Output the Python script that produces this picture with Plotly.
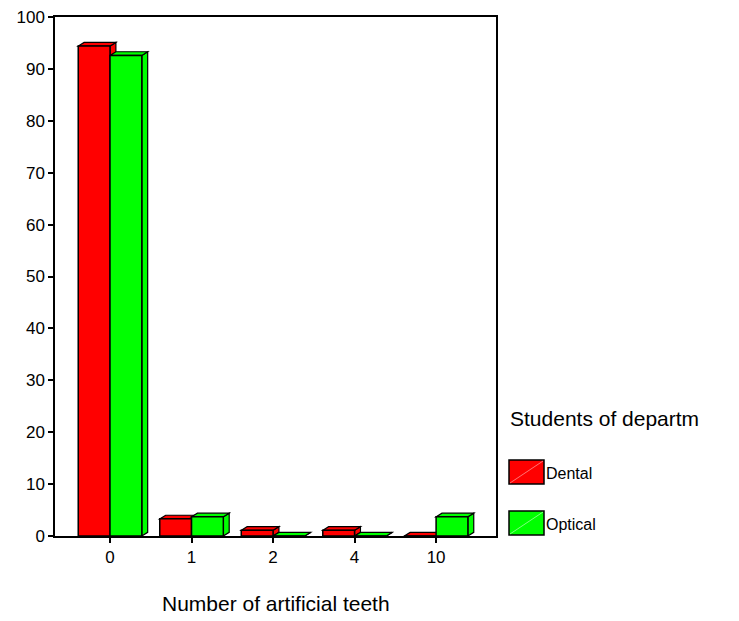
import plotly.graph_objects as go

categories = ["0", "1", "2", "4", "10"]
dental = [94.4, 3.3, 1.1, 1.1, 0.0]
optical = [92.6, 3.7, 0.0, 0.0, 3.7]
series_names = ["Dental", "Optical"]
series_colors = ["#FF0000", "#00FF00"]
series_light = ["#FF9090", "#A0FFA0"]
legend_title = "Students of departm"
x_title = "Number of artificial teeth"
y_ticks = list(range(0, 101, 10))

PAGE_OFF = 8  # browser body margin
W, H = 739 - 2 * PAGE_OFF, 621 - PAGE_OFF
PW, PH = 441, 519
L, T = 55 - PAGE_OFF, 17 - PAGE_OFF
R, B = W - L - PW, H - T - PH

FONT = "Liberation Sans, Arial, sans-serif"

xpos = list(range(len(categories)))
BW = 0.39
DX, DY = 0.072, 0.7

fig = go.Figure()
offsets = [-BW, 0.0]
shapes = []
for name, vals, col, off in zip(series_names, [dental, optical], series_colors, offsets):
    fig.add_trace(go.Bar(
        x=xpos, y=vals, width=BW, offset=off, name=name,
        marker=dict(color=col, line=dict(color="black", width=1.5)),
        showlegend=False,
    ))
    for i, v in zip(xpos, vals):
        x0 = i + off
        x1 = x0 + BW
        top = f"M {x0},{v} L {x1},{v} L {x1+DX},{v+DY} L {x0+DX},{v+DY} Z"
        side = f"M {x1},0 L {x1},{v} L {x1+DX},{v+DY} L {x1+DX},{DY} Z"
        for p in (side, top):
            shapes.append(dict(type="path", path=p, xref="x", yref="y", layer="below",
                               fillcolor=col, line=dict(color="black", width=1.2)))

def px_x(px):
    return (px - PAGE_OFF - L) / PW

def px_y(py):
    return (T + PH - (py - PAGE_OFF)) / PH

annotations = []
annotations.append(dict(text=legend_title, x=px_x(508), y=px_y(418), xref="paper", yref="paper",
                        xanchor="left", yanchor="middle", showarrow=False,
                        font=dict(size=21, color="black", family=FONT)))
annotations.append(dict(text=x_title, x=0.5, y=px_y(603), xref="paper", yref="paper",
                        xanchor="center", yanchor="middle", showarrow=False,
                        font=dict(size=21, color="black", family=FONT)))
sw_tops = [460, 511]
for name, col, lt, st in zip(series_names, series_colors, series_light, sw_tops):
    shapes.append(dict(type="rect", xref="paper", yref="paper",
                       x0=px_x(509), x1=px_x(544), y0=px_y(st + 24), y1=px_y(st),
                       fillcolor=col, line=dict(color="black", width=1.5)))
    shapes.append(dict(type="line", xref="paper", yref="paper",
                       x0=px_x(510), x1=px_x(543), y0=px_y(st + 23), y1=px_y(st + 1),
                       line=dict(color=lt, width=0.8)))
    annotations.append(dict(text=name, x=px_x(544), y=px_y(st + 13), xref="paper", yref="paper",
                            xanchor="left", yanchor="middle", showarrow=False,
                            font=dict(size=16, color="black", family=FONT)))

fig.update_layout(
    width=W, height=H,
    margin=dict(l=L, r=R, t=T, b=B, pad=0, autoexpand=False),
    paper_bgcolor="white", plot_bgcolor="white",
    font=dict(family=FONT, color="black", size=17),
    barmode="overlay",
    shapes=shapes,
    annotations=annotations,
    xaxis=dict(range=[-0.675, 4.735], tickvals=xpos, ticktext=categories,
               ticks="outside", ticklen=5, tickwidth=1.5, tickcolor="black",
               showline=True, mirror=True, linecolor="black", linewidth=1.5,
               showgrid=False, zeroline=False, tickfont=dict(size=17),
               automargin=False, ticklabeloverflow="allow"),
    yaxis=dict(range=[0, 100], tickvals=y_ticks,
               ticks="outside", ticklen=5, tickwidth=1.5, tickcolor="black",
               showline=True, mirror=True, linecolor="black", linewidth=1.5,
               showgrid=False, zeroline=False, tickfont=dict(size=17),
               automargin=False, ticklabeloverflow="allow"),
)

fig.write_html("out.html")
